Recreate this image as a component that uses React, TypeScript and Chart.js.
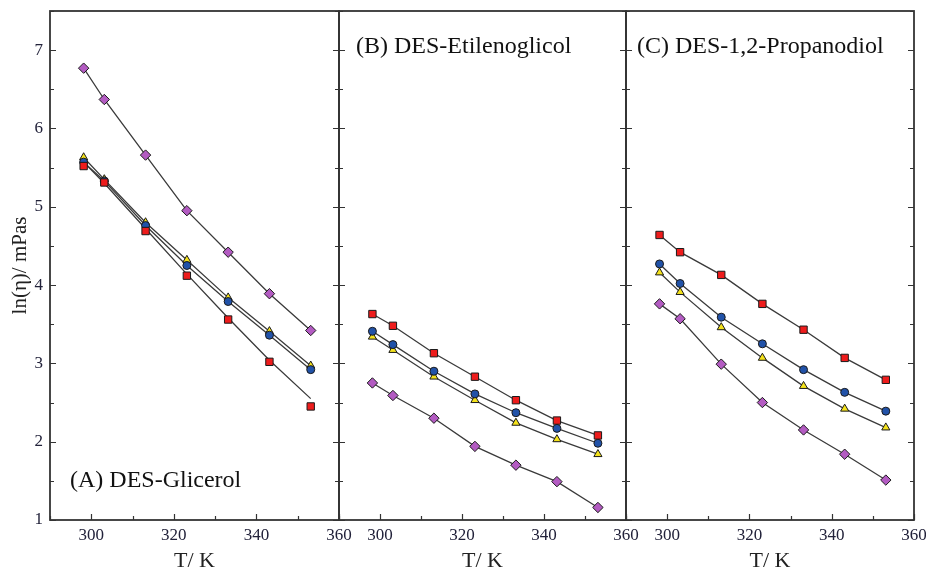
import React, { useEffect, useRef } from 'react';
import { Chart, registerables } from 'chart.js';

Chart.register(...registerables);

// ---- data ----
const temperatures = [298.15, 303.15, 313.15, 323.15, 333.15, 343.15, 353.15];
const xTickValues = [300, 320, 340, 360];
const yTickValues = [1, 2, 3, 4, 5, 6, 7];

// (A) DES-Glicerol
const glicerolRed = [5.52, 5.31, 4.69, 4.12, 3.56, 3.02, 2.45];
const glicerolBlue = [5.57, 5.33, 4.76, 4.25, 3.79, 3.36, 2.92];
const glicerolYellow = [5.63, 5.35, 4.8, 4.32, 3.84, 3.41, 2.97];
const glicerolPurple = [6.77, 6.37, 5.66, 4.95, 4.42, 3.89, 3.42];
const glicerolRedFit = [5.57, 5.3, 4.72, 4.14, 3.58, 3.04, 2.55];

// (B) DES-Etilenoglicol
const etilenoRed = [3.63, 3.48, 3.13, 2.83, 2.53, 2.27, 2.08];
const etilenoBlue = [3.41, 3.24, 2.9, 2.61, 2.37, 2.17, 1.98];
const etilenoYellow = [3.34, 3.17, 2.83, 2.53, 2.24, 2.03, 1.84];
const etilenoPurple = [2.75, 2.59, 2.3, 1.94, 1.7, 1.49, 1.16];

// (C) DES-1,2-Propanodiol
const propanoRed = [4.64, 4.42, 4.13, 3.76, 3.43, 3.07, 2.79];
const propanoBlue = [4.27, 4.02, 3.59, 3.25, 2.92, 2.63, 2.39];
const propanoYellow = [4.16, 3.91, 3.46, 3.07, 2.71, 2.42, 2.18];
const propanoPurple = [3.76, 3.57, 2.99, 2.5, 2.15, 1.84, 1.51];

const panelTitles = ['(A) DES-Glicerol', '(B) DES-Etilenoglicol', '(C) DES-1,2-Propanodiol'];
const xAxisTitle = 'T/ K';
const yAxisTitle = 'ln(η)/ mPas';

const RED = '#ee1c1c';
const BLUE = '#2152a8';
const YELLOW = '#f4e21a';
const PURPLE = '#b35bc2';

const FONT = '"Liberation Serif", "Times New Roman", serif';

type Series = { values: number[]; fit?: number[]; color: string; style: string; radius: number };

const panels: { title: string; series: Series[] }[] = [
  {
    title: panelTitles[0],
    series: [
      { values: glicerolRed, fit: glicerolRedFit, color: RED, style: 'rect', radius: 5.2 },
      { values: glicerolBlue, color: BLUE, style: 'circle', radius: 4 },
      { values: glicerolYellow, color: YELLOW, style: 'triangle', radius: 4.7 },
      { values: glicerolPurple, color: PURPLE, style: 'rectRot', radius: 5.2 },
    ],
  },
  {
    title: panelTitles[1],
    series: [
      { values: etilenoRed, color: RED, style: 'rect', radius: 5.2 },
      { values: etilenoBlue, color: BLUE, style: 'circle', radius: 4 },
      { values: etilenoYellow, color: YELLOW, style: 'triangle', radius: 4.7 },
      { values: etilenoPurple, color: PURPLE, style: 'rectRot', radius: 5.2 },
    ],
  },
  {
    title: panelTitles[2],
    series: [
      { values: propanoRed, color: RED, style: 'rect', radius: 5.2 },
      { values: propanoBlue, color: BLUE, style: 'circle', radius: 4 },
      { values: propanoYellow, color: YELLOW, style: 'triangle', radius: 4.7 },
      { values: propanoPurple, color: PURPLE, style: 'rectRot', radius: 5.2 },
    ],
  },
];

// layout of each panel (chart-area placement on the 926x574 page)
const panelPadding = [
  { left: 0, right: 587, top: 11, bottom: 0 },
  { left: 339, right: 300, top: 11, bottom: 0 },
  { left: 626, right: 12, top: 11, bottom: 0 },
];
const labelPlacement = [
  { dx: 20, dy: 33, fromBottom: true },
  { dx: 17, dy: 42, fromBottom: false },
  { dx: 11, dy: 42, fromBottom: false },
];

const framePlugin = {
  id: 'frame',
  afterDatasetsDraw(chart: any, _args: any, opts: any) {
    const { ctx, chartArea, scales } = chart;
    const { left, right, top, bottom } = chartArea;
    const x = scales.x;
    const y = scales.y;
    ctx.save();
    ctx.strokeStyle = '#333333';
    ctx.lineWidth = 1.8;
    ctx.strokeRect(left, top, right - left, bottom - top);
    ctx.lineWidth = 1.2;
    ctx.beginPath();
    for (let v = x.min; v <= x.max; v += 10) {
      const px = Math.round(x.getPixelForValue(v)) + 0.5;
      const len = v % 20 === 0 ? 6 : 4;
      ctx.moveTo(px, bottom);
      ctx.lineTo(px, bottom - len);
    }
    for (let v = y.min; v <= y.max + 0.001; v += 0.5) {
      const py = Math.round(y.getPixelForValue(v)) + 0.5;
      const len = Number.isInteger(v) ? 6 : 4;
      ctx.moveTo(left, py);
      ctx.lineTo(left + len, py);
      ctx.moveTo(right, py);
      ctx.lineTo(right - len, py);
    }
    ctx.stroke();
    ctx.font = `24px ${FONT}`;
    ctx.fillStyle = '#111111';
    ctx.textBaseline = 'alphabetic';
    ctx.textAlign = 'left';
    const ty = opts.fromBottom ? bottom - opts.dy : top + opts.dy;
    ctx.fillText(opts.text, left + opts.dx, ty);
    ctx.restore();
  },
};

function Panel({ index }: { index: number }) {
  const ref = useRef<HTMLCanvasElement>(null);
  useEffect(() => {
    const panel = panels[index];
    const markerSets = panel.series.map((s) => ({
      type: 'scatter' as const,
      data: temperatures.map((t, i) => ({ x: t, y: s.values[i] })),
      showLine: false,
      pointStyle: s.style,
      pointRadius: s.radius,
      pointBackgroundColor: s.color,
      pointBorderColor: '#1a1a1a',
      pointBorderWidth: 1,
    }));
    const lineSets = panel.series.map((s) => ({
      type: 'scatter' as const,
      data: temperatures.map((t, i) => ({ x: t, y: (s.fit || s.values)[i] })),
      showLine: true,
      borderColor: '#3a3a3a',
      borderWidth: 1.3,
      pointRadius: 0,
      tension: 0,
    }));
    const isFirst = index === 0;
    const chart = new Chart(ref.current as HTMLCanvasElement, {
      type: 'scatter',
      data: { datasets: [...markerSets, ...lineSets] as any },
      plugins: [framePlugin],
      options: {
        responsive: false,
        animation: false,
        events: [],
        layout: { padding: panelPadding[index] },
        plugins: {
          legend: { display: false },
          tooltip: { enabled: false },
          frame: { text: panel.title, ...labelPlacement[index] },
        } as any,
        scales: {
          x: {
            type: 'linear',
            min: 290,
            max: 360,
            grid: { display: false, drawTicks: false },
            border: { display: false },
            afterBuildTicks: (s: any) => {
              s.ticks = xTickValues.map((v) => ({ value: v }));
            },
            afterFit: (s: any) => {
              s.height = 54;
              s.paddingLeft = 0;
              s.paddingRight = 0;
            },
            ticks: {
              padding: 5,
              color: '#22223a',
              font: { family: FONT, size: 17 },
              maxRotation: 0,
              autoSkip: false,
            },
            title: {
              display: true,
              text: xAxisTitle,
              color: '#222222',
              font: { family: FONT, size: 22, lineHeight: 1.2 },
              padding: { top: 0, bottom: 0 },
            },
          },
          y: {
            type: 'linear',
            min: 1,
            max: 7.5,
            display: isFirst,
            grid: { display: false, drawTicks: false },
            border: { display: false },
            afterBuildTicks: (s: any) => {
              s.ticks = yTickValues.map((v) => ({ value: v }));
            },
            afterFit: (s: any) => {
              s.width = isFirst ? 50 : 0;
              s.paddingTop = 0;
              s.paddingBottom = 0;
            },
            ticks: {
              padding: 7,
              color: '#22223a',
              font: { family: FONT, size: 17 },
            },
            title: {
              display: true,
              text: yAxisTitle,
              color: '#222222',
              font: { family: FONT, size: 21, lineHeight: 1.2 },
              padding: { top: 8, bottom: 0 },
            },
          },
        },
      } as any,
    });
    return () => chart.destroy();
  }, [index]);
  return (
    <canvas
      ref={ref}
      width={926}
      height={574}
      style={{ position: 'absolute', left: 0, top: 0, width: 926, height: 574 }}
    />
  );
}

export default function App() {
  return (
    <div style={{ position: 'fixed', left: 0, top: 0, width: 926, height: 574, background: '#ffffff' }}>
      <Panel index={0} />
      <Panel index={1} />
      <Panel index={2} />
    </div>
  );
}
